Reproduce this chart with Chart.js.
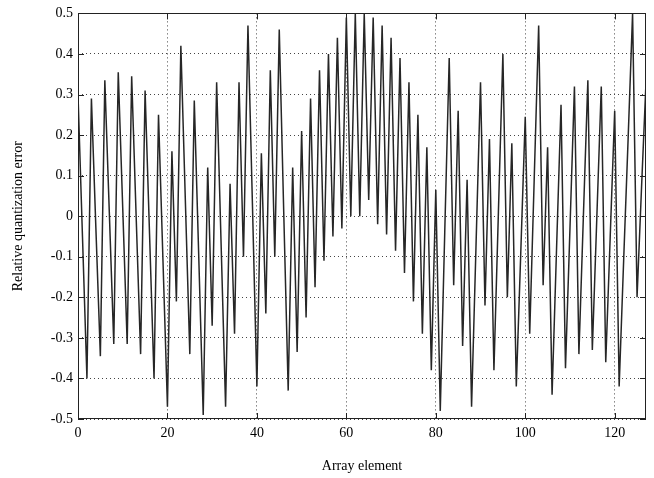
<!DOCTYPE html>
<html>
<head>
<meta charset="utf-8">
<script src="https://cdn.jsdelivr.net/npm/chart.js@4.4.1/dist/chart.umd.min.js"></script>
<style>
  html, body { margin: 0; padding: 0; background: #fff; }
  #wrap { width: 654px; height: 478px; position: relative; }
</style>
</head>
<body>
<div id="wrap"><canvas id="grafico"></canvas></div>
<script>
// relative quantization error per array element
const errors = [
    0.30, -0.05, -0.40, 0.29, -0.03, -0.345, 0.335, 0.01, -0.315, 0.355,
    0.02, -0.315, 0.345, 0.0, -0.34, 0.31, -0.045, -0.40, 0.25, -0.11,
    -0.47, 0.16, -0.21, 0.42, 0.04, -0.34, 0.285, -0.10, -0.49, 0.12,
    -0.27, 0.33, -0.07, -0.47, 0.08, -0.29, 0.33, -0.10, 0.47, 0.03,
    -0.42, 0.155, -0.24, 0.36, -0.10, 0.46, 0.01, -0.43, 0.12, -0.335,
    0.21, -0.25, 0.29, -0.175, 0.36, -0.11, 0.40, -0.05, 0.44, -0.03,
    0.49, 0.0, 0.50, 0.0, 0.50, 0.04, 0.49, -0.02, 0.47, -0.045,
    0.44, -0.085, 0.39, -0.14, 0.33, -0.21, 0.25, -0.29, 0.17, -0.38,
    0.065, -0.48, -0.04, 0.39, -0.17, 0.26, -0.32, 0.09, -0.47, -0.07,
    0.33, -0.22, 0.19, -0.38, 0.01, 0.40, -0.20, 0.18, -0.42, -0.09,
    0.245, -0.29, 0.09, 0.47, -0.17, 0.17, -0.44, -0.08, 0.275, -0.375,
    -0.03, 0.32, -0.34, 0.0, 0.335, -0.33, -0.005, 0.32, -0.36, -0.05,
    0.26, -0.42, -0.11, 0.19, 0.50, -0.20, 0.07, 0.33
];
const elements = errors.map((_, i) => i);

const xTicks = [0, 20, 40, 60, 80, 100, 120];
const yTicks = [-0.5, -0.4, -0.3, -0.2, -0.1, 0, 0.1, 0.2, 0.3, 0.4, 0.5];
const yTickLabels = ["-0.5", "-0.4", "-0.3", "-0.2", "-0.1", "0", "0.1", "0.2", "0.3", "0.4", "0.5"];

const serif = { family: "'Liberation Serif', 'Times New Roman', serif", size: 14 };

// box round the plot and short ticks pointing inwards, matlab style
const boxPlugin = {
    id: "box",
    afterDraw(chart) {
        const { ctx, chartArea: a, scales: { x, y } } = chart;
        ctx.save();
        ctx.strokeStyle = "#222";
        ctx.lineWidth = 1;
        ctx.strokeRect(Math.round(a.left) + 0.5, Math.round(a.top) + 0.5,
            Math.round(a.width) - 1, Math.round(a.height) - 1);
        ctx.beginPath();
        xTicks.forEach(v => {
            const px = Math.round(x.getPixelForValue(v)) + 0.5;
            ctx.moveTo(px, a.bottom); ctx.lineTo(px, a.bottom - 6);
            ctx.moveTo(px, a.top); ctx.lineTo(px, a.top + 6);
        });
        yTicks.forEach(v => {
            const py = Math.round(y.getPixelForValue(v)) + 0.5;
            ctx.moveTo(a.left, py); ctx.lineTo(a.left + 6, py);
            ctx.moveTo(a.right, py); ctx.lineTo(a.right - 6, py);
        });
        ctx.stroke();
        ctx.restore();
    }
};

new Chart(document.getElementById("grafico"), {
    type: "line",
    data: {
        labels: elements,
        datasets: [{
            data: errors.map((v, i) => ({ x: elements[i], y: v })),
            borderColor: "#262626",
            borderWidth: 1.5,
            pointRadius: 0,
            tension: 0,
            fill: false
        }]
    },
    options: {
        responsive: true,
        maintainAspectRatio: false,
        animation: false,
        layout: { autoPadding: false, padding: { left: 0, right: 8, top: 10, bottom: 0 } },
        plugins: { legend: { display: false }, tooltip: { enabled: false } },
        scales: {
            x: {
                type: "linear",
                min: 0,
                max: 127,
                afterBuildTicks: s => { s.ticks = xTicks.map(v => ({ value: v })); },
                afterFit: s => { s.height = 59; },
                ticks: { color: "#000", font: serif, padding: 6, maxRotation: 0 },
                grid: { color: "#444", lineWidth: 1, drawTicks: false },
                border: { display: false, dash: [1, 3] },
                title: { display: true, text: "Array element", color: "#000", font: serif, padding: { top: 0, bottom: 3 } }
            },
            y: {
                min: -0.5,
                max: 0.5,
                afterBuildTicks: s => { s.ticks = yTicks.map(v => ({ value: v })); },
                afterFit: s => { s.width = 78; },
                ticks: {
                    color: "#000", font: serif, padding: 5,
                    callback: v => yTickLabels[yTicks.indexOf(v)] ?? ""
                },
                grid: { color: "#444", lineWidth: 1, drawTicks: false },
                border: { display: false, dash: [1, 3] },
                title: { display: true, text: "Relative quantization error", color: "#000", font: serif, padding: { top: 10, bottom: 0 } }
            }
        }
    },
    plugins: [boxPlugin]
});
</script>
</body>
</html>
